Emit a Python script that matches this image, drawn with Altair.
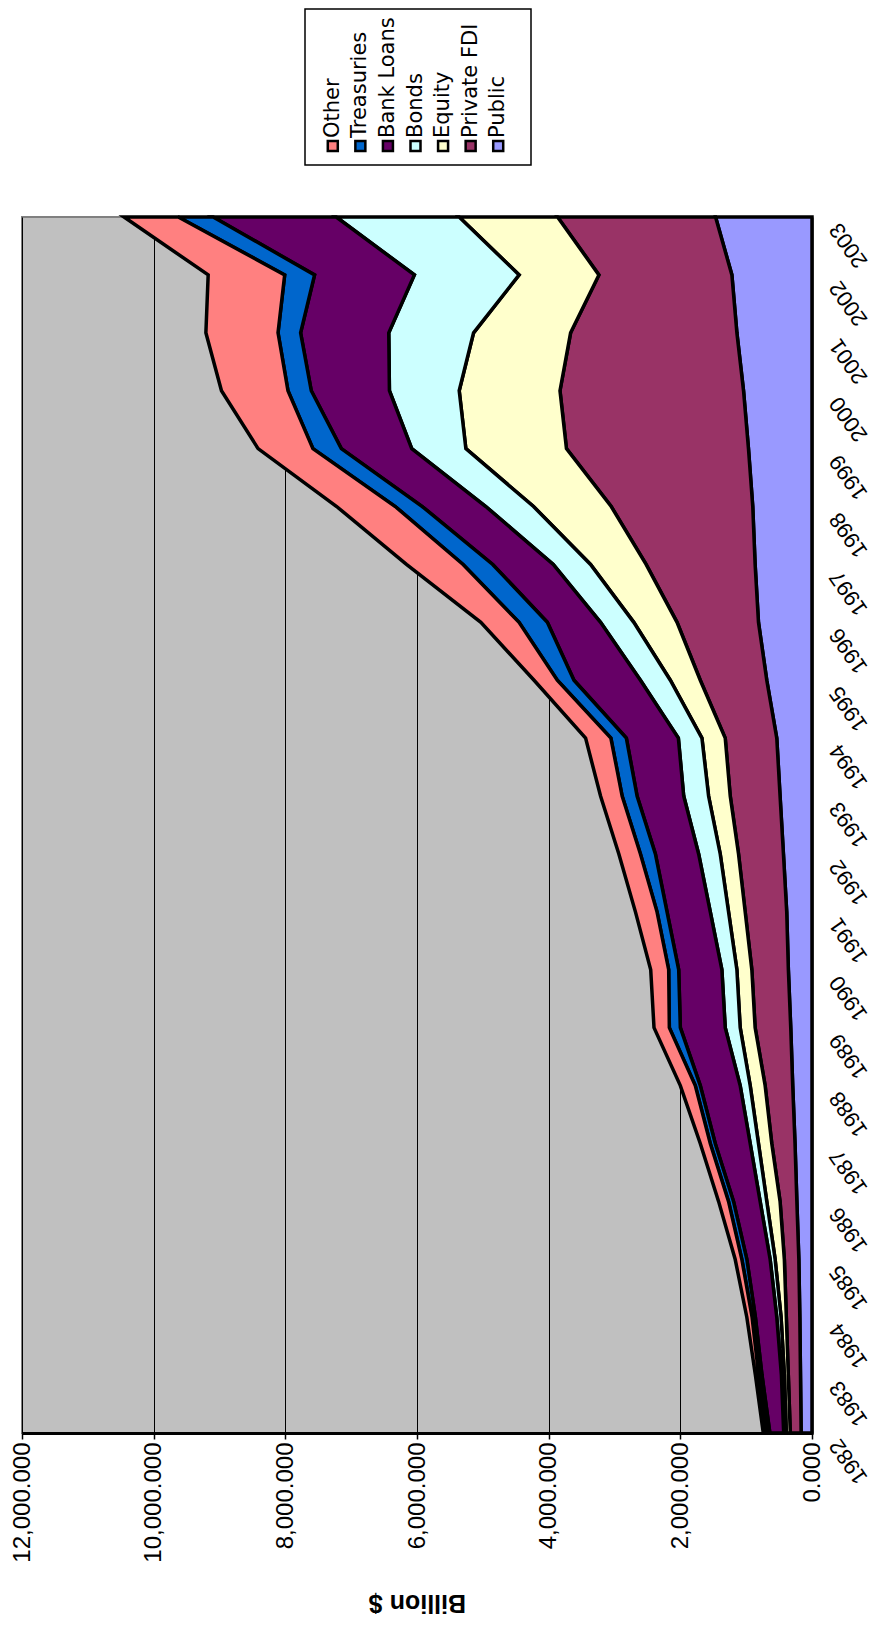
import altair as alt
import pandas as pd

years = list(range(1982, 2004))

public = [165, 175, 185, 200, 230, 258, 293, 323, 359, 384, 434, 485, 535, 687, 813, 864, 900, 965, 1040, 1141, 1217, 1465]
private_fdi = [165, 185, 205, 220, 255, 353, 419, 541, 555, 631, 682, 757, 783, 1010, 1237, 1656, 2150, 2765, 2788, 2526, 2020, 2400]
equity = [60, 60, 80, 140, 202, 202, 227, 227, 227, 253, 278, 329, 354, 455, 657, 844, 1180, 1528, 1531, 1474, 1212, 1495]
bonds = [40, 45, 65, 76, 101, 126, 152, 227, 228, 277, 328, 378, 358, 454, 505, 566, 725, 822, 1060, 1288, 1591, 1867]
bank_loans = [210, 295, 325, 354, 404, 531, 606, 682, 656, 657, 657, 708, 790, 1010, 808, 920, 965, 1070, 1187, 1339, 1516, 1869]
treasuries = [50, 50, 50, 76, 76, 75, 76, 167, 152, 152, 227, 227, 235, 253, 430, 450, 410, 431, 354, 343, 454, 530]
other = [50, 50, 80, 101, 151, 152, 227, 233, 273, 328, 328, 328, 384, 353, 580, 860, 890, 833, 1010, 1096, 1162, 824]

series_order = ["Public", "Private FDI", "Equity", "Bonds", "Bank Loans", "Treasuries", "Other"]
series_values = [public, private_fdi, equity, bonds, bank_loans, treasuries, other]
colors = ["#9999FF", "#993366", "#FFFFCC", "#CCFFFF", "#660066", "#0066CC", "#FF8080"]
legend_order = ["Other", "Treasuries", "Bank Loans", "Bonds", "Equity", "Private FDI", "Public"]
x_ticks = [0, 2000, 4000, 6000, 8000, 10000, 12000]

rows = []
for i, (name, vals) in enumerate(zip(series_order, series_values)):
    for yr, v in zip(years, vals):
        rows.append({"year": yr, "series": name, "value": v, "ord": i})
df = pd.DataFrame(rows)

FONT = "Liberation Sans"
LEG_FONT = "DejaVu Sans"
color_scale = alt.Scale(domain=series_order, range=colors)

main = alt.Chart(df).mark_area(
    orient="horizontal", stroke="black", strokeWidth=3.5, strokeJoin="miter"
).encode(
    x=alt.X(
        "value:Q", stack="zero",
        scale=alt.Scale(domain=[0, 12000], reverse=True, nice=False),
        axis=alt.Axis(
            values=x_ticks, format=",.3f", labelAngle=270, labelAlign="right",
            labelBaseline="middle", labelFontSize=24, labelFont=FONT, labelColor="black",
            labelPadding=3, tickSize=6, tickColor="black", tickWidth=1.5,
            domainColor="black", domainWidth=3, grid=True, gridColor="black",
            gridWidth=1, title="Billion $", titleAngle=180, titleBaseline="bottom",
            titleFontSize=25, titleFont=FONT, titleFontWeight="bold",
            titleColor="black", titlePadding=27, labelFlush=False,
        ),
    ),
    y=alt.Y(
        "year:Q",
        scale=alt.Scale(domain=[1982, 2003], nice=False, zero=False),
        axis=alt.Axis(
            orient="right", values=years, format="d", labelAngle=235,
            labelAlign="right", labelBaseline="middle", labelFontSize=22,
            labelFont=FONT, labelColor="black", labelPadding=22, labelOffset=8,
            ticks=False, domainColor="black", domainWidth=2, grid=False,
            title="", labelFlush=False,
        ),
    ),
    color=alt.Color("series:N", scale=color_scale, legend=None),
    order=alt.Order("ord:Q"),
)

# legend, drawn above the plot area in the same layer
leg_df = pd.DataFrame({"series": legend_order})
frame_df = pd.DataFrame({"k": [0]})
leg_x = alt.X("series:N", scale=alt.Scale(type="point", domain=legend_order, range=[297, 490]), axis=None)

frame = alt.Chart(frame_df).mark_rect(fill="white", stroke="black", strokeWidth=1.5).encode(
    x=alt.value(283), x2=alt.value(509), y=alt.value(-208), y2=alt.value(-52)
)
squares = alt.Chart(leg_df).mark_square(size=100, stroke="black", strokeWidth=2.5, opacity=1).encode(
    x=leg_x, y=alt.value(-71),
    color=alt.Color("series:N", scale=color_scale, legend=None),
)
texts = alt.Chart(leg_df).mark_text(
    angle=270, align="left", baseline="middle", fontSize=21, font=LEG_FONT, color="black"
).encode(x=leg_x, y=alt.value(-79), text="series:N")

chart = alt.layer(main, frame, squares, texts).resolve_scale(x="independent").properties(
    width=790, height=1216,
    view=alt.ViewBackground(fill="#C0C0C0", stroke="#808080", strokeWidth=2),
    padding={"left": 2, "top": 0, "right": 0, "bottom": 12},
    background="white",
).configure(font=FONT)

chart.save("out.html", embed_options={"renderer": "svg", "actions": False})
